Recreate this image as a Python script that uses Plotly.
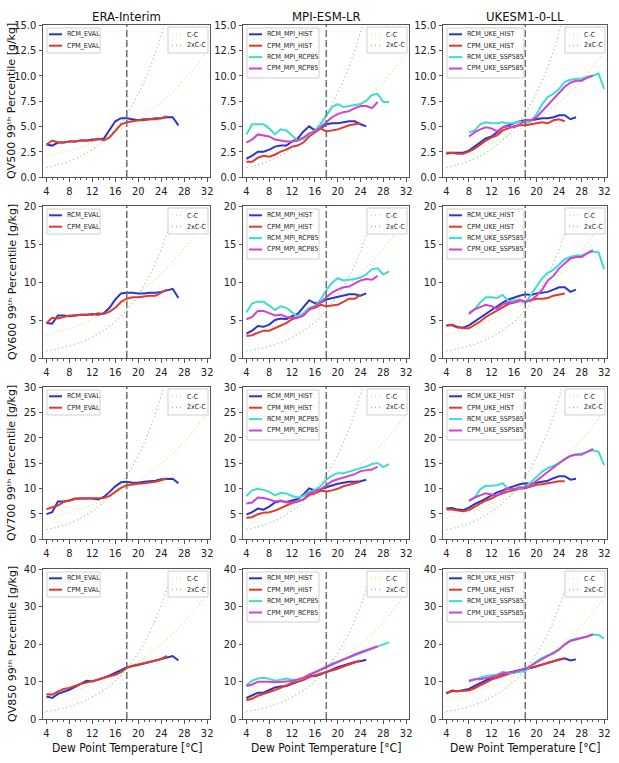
import plotly.graph_objects as go

W, H = 619, 763

# ---------------- data ----------------
col_titles = ["ERA-Interim", "MPI-ESM-LR", "UKESM1-0-LL"]
row_levels = ["QV500", "QV600", "QV700", "QV850"]
y_max = [15, 20, 30, 40]
y_dtick = [2.5, 5, 5, 10]
x_tick_vals = [4, 8, 12, 16, 20, 24, 28, 32]

# Clausius-Clapeyron reference curves: relative factor to value at 18 degC
cc_temps = [4, 6, 8, 10, 12, 14, 16, 18, 20, 22, 24, 26, 28, 30, 32]
cc_factor = [0.40, 0.46, 0.52, 0.59, 0.68, 0.77, 0.88, 1.00, 1.14, 1.30, 1.48, 1.68, 1.92, 2.18, 2.48]
cc2_factor = [0.15, 0.19, 0.25, 0.33, 0.44, 0.58, 0.76, 1.00, 1.32, 1.73, 2.27, 2.99, 3.93, 5.17, 6.80]
cc_anchor = [[5.0, 4.9, 5.0], [7.5, 7.5, 7.4], [10.0, 9.9, 10.2], [13.5, 13.5, 13.0]]
cc2_anchor = [[6.2, 6.3, 6.3], [6.3, 6.2, 6.3], [12.5, 12.6, 12.3], [13.4, 13.3, 13.2]]

# QV500
qv500_era_rcm = [3.2,3.1,3.4,3.4,3.5,3.5,3.6,3.6,3.7,3.7,3.8,4.6,5.5,5.8,5.8,5.7,5.6,5.7,5.7,5.8,5.8,5.9,5.9,5.1]
qv500_era_cpm = [3.2,3.6,3.4,3.4,3.5,3.5,3.6,3.6,3.6,3.8,3.6,3.9,4.6,5.2,5.4,5.5,5.6,5.6,5.7,5.7,5.8,6.0]
qv500_mpi_rcm_hist = [1.8,2.1,2.5,2.5,2.7,3.0,3.1,3.1,3.5,3.8,4.5,5.0,4.6,4.8,5.2,5.3,5.3,5.4,5.5,5.5,5.2,5.0]
qv500_mpi_cpm_hist = [1.5,1.5,1.9,2.1,2.0,2.2,2.5,2.7,3.0,3.1,3.4,4.0,4.4,4.8,4.5,4.6,4.7,4.9,5.1,5.2,5.3]
qv500_mpi_rcm_rcp85 = [4.2,5.2,5.2,5.2,4.8,4.2,4.7,4.6,4.1,3.6,3.8,4.2,4.6,5.2,6.1,6.9,7.2,6.9,7.0,7.1,7.2,7.5,8.1,8.2,7.4,7.4]
qv500_mpi_cpm_rcp85 = [3.4,3.7,4.2,4.1,4.0,3.7,3.6,3.5,3.5,3.6,3.9,4.3,4.5,4.9,5.4,5.9,6.2,6.4,6.5,6.8,7.0,7.0,6.8,7.4]
qv500_uke_rcm_hist = [2.3,2.4,2.4,2.4,2.6,3.0,3.4,3.8,4.0,4.4,4.9,5.1,5.3,5.5,5.6,5.6,5.7,5.8,5.8,5.9,6.1,6.1,5.7,5.9]
qv500_uke_cpm_hist = [2.4,2.4,2.3,2.3,2.5,2.8,3.2,3.6,3.9,4.1,4.6,4.8,5.0,5.1,5.1,5.2,5.3,5.4,5.3,5.6,5.7,5.5]
qv500_uke_rcm_ssp585 = [4.4,4.6,5.2,5.4,5.3,5.3,5.4,5.3,5.3,5.5,5.3,5.5,6.2,7.2,7.9,8.2,8.7,9.4,9.6,9.7,9.7,9.9,10.0,10.2,8.7]
qv500_uke_cpm_ssp585 = [4.0,4.4,4.7,4.9,4.8,4.5,4.9,5.0,4.9,5.2,5.6,5.6,5.9,6.5,7.1,7.6,8.3,8.9,9.3,9.5,9.5,9.8,10.0]
# QV600
qv600_era_rcm = [4.6,4.5,5.6,5.6,5.5,5.6,5.7,5.7,5.8,5.7,5.9,6.6,7.7,8.5,8.6,8.6,8.5,8.5,8.6,8.6,8.7,8.9,9.1,7.9]
qv600_era_cpm = [4.6,5.3,5.2,5.4,5.6,5.6,5.7,5.7,5.7,5.9,5.8,6.1,6.6,7.4,7.8,8.0,8.0,8.1,8.2,8.2,8.6,9.0]
qv600_mpi_rcm_hist = [3.2,3.6,4.2,4.1,4.4,5.0,5.2,5.1,5.5,5.8,6.7,7.6,7.2,7.3,7.7,7.9,8.1,8.2,8.4,8.4,8.2,8.5]
qv600_mpi_cpm_hist = [2.9,3.0,3.3,3.6,3.6,3.9,4.3,4.6,5.1,5.3,5.6,6.4,6.6,7.0,6.8,6.9,7.0,7.4,7.8,7.8,8.3]
qv600_mpi_rcm_rcp85 = [6.0,7.2,7.4,7.4,6.9,6.3,6.8,6.6,6.0,5.4,5.9,6.6,6.8,7.7,8.9,9.9,10.5,10.2,10.3,10.4,10.6,11.0,11.7,11.8,11.0,11.4]
qv600_mpi_cpm_rcp85 = [5.1,5.4,6.2,6.2,5.9,5.6,5.7,5.4,5.3,5.3,5.6,6.4,6.8,7.3,8.0,8.6,9.0,9.3,9.4,9.8,10.2,10.4,10.3,10.8]
qv600_uke_rcm_hist = [4.3,4.3,4.0,4.0,4.3,4.8,5.3,5.9,6.3,6.8,7.3,7.7,8.0,8.2,8.4,8.3,8.5,8.6,8.7,9.0,9.3,9.3,8.7,9.0]
qv600_uke_cpm_hist = [4.2,4.4,4.1,3.9,3.9,4.3,4.8,5.4,5.8,6.2,6.6,7.1,7.3,7.5,7.4,7.6,7.8,7.8,7.9,8.2,8.4,8.5]
qv600_uke_rcm_ssp585 = [6.0,6.4,7.3,8.0,8.0,7.9,8.3,7.5,7.6,7.6,7.2,8.3,9.3,10.5,11.2,11.6,12.3,13.0,13.3,13.5,13.5,13.7,14.0,13.9,11.7]
qv600_uke_cpm_ssp585 = [5.8,6.4,6.7,7.0,6.8,6.5,7.1,7.3,7.3,7.7,7.4,7.6,8.2,9.0,10.2,10.8,11.8,12.4,13.1,13.3,13.3,13.8,14.2]
# QV700
qv700_era_rcm = [4.9,5.3,7.4,7.4,7.6,8.0,8.0,8.0,8.0,7.8,8.3,9.3,10.4,11.2,11.3,11.1,11.1,11.3,11.4,11.5,11.8,11.9,11.9,11.0]
qv700_era_cpm = [5.9,6.2,6.6,7.3,7.6,7.9,8.0,8.0,8.0,8.1,8.1,8.5,9.3,10.1,10.6,10.8,10.9,11.0,11.1,11.3,11.6,12.0]
qv700_mpi_rcm_hist = [4.8,5.3,6.0,5.8,6.4,7.2,7.5,7.3,7.6,7.9,8.8,10.0,9.6,9.8,10.2,10.6,10.9,11.1,11.3,11.3,11.4,11.7]
qv700_mpi_cpm_hist = [4.2,4.3,4.9,5.2,5.3,5.6,6.1,6.6,7.1,7.4,7.8,8.7,9.0,9.5,9.4,9.6,9.9,10.4,10.7,10.9,11.3]
qv700_mpi_rcm_rcp85 = [8.5,9.6,9.9,9.7,9.3,8.6,9.1,9.0,8.5,8.2,8.5,9.3,9.7,10.4,11.7,12.5,13.0,13.0,13.3,13.6,13.9,14.3,14.8,15.0,14.2,14.8]
qv700_mpi_cpm_rcp85 = [7.0,7.2,8.2,8.1,7.8,7.4,7.6,7.2,7.2,7.4,7.8,9.0,9.4,9.8,10.6,11.4,11.8,12.1,12.4,12.8,13.4,13.6,13.7,14.3]
qv700_uke_rcm_hist = [6.0,6.1,5.8,5.7,6.2,6.9,7.4,8.0,8.6,9.2,9.6,10.1,10.4,10.8,11.0,10.9,11.1,11.3,11.5,12.0,12.4,12.4,11.7,11.9]
qv700_uke_cpm_hist = [5.8,5.8,5.6,5.5,5.7,6.3,6.9,7.6,8.0,8.6,9.0,9.4,9.6,9.9,10.0,10.4,10.7,10.8,11.0,11.2,11.4,11.4]
qv700_uke_rcm_ssp585 = [7.6,8.1,9.8,10.5,10.5,10.6,11.0,9.8,9.8,10.0,10.2,11.2,12.3,13.3,14.0,14.5,14.9,15.8,16.4,16.6,16.6,17.2,17.5,17.2,14.6]
qv700_uke_cpm_ssp585 = [7.5,8.2,8.6,9.0,8.8,8.6,9.3,10.0,9.8,10.2,10.1,10.6,11.5,12.4,13.3,14.1,15.0,15.7,16.4,16.7,16.8,17.2,17.8]
# QV850
qv850_era_rcm = [6.0,5.6,6.7,7.2,7.8,8.6,9.4,10.2,10.0,10.4,11.0,11.6,12.2,13.0,13.8,14.0,14.4,14.8,15.2,15.6,16.0,16.4,16.8,15.6]
qv850_era_cpm = [6.6,6.5,7.3,8.0,8.3,8.9,9.4,9.7,10.0,10.5,11.0,11.3,11.8,12.5,13.6,14.2,14.5,14.9,15.3,15.6,16.0,16.8]
qv850_mpi_rcm_hist = [5.6,6.2,7.0,7.0,7.8,8.4,8.7,8.8,9.4,9.9,10.5,11.6,11.4,11.9,12.6,13.2,13.8,14.3,14.8,15.2,15.4,15.8]
qv850_mpi_cpm_hist = [5.0,5.4,6.2,6.8,7.2,7.7,8.4,9.0,9.6,10.0,10.4,11.2,11.6,12.2,12.5,12.9,13.4,14.0,14.6,15.0,15.6]
qv850_mpi_rcm_rcp85 = [9.0,10.2,10.8,11.0,10.7,10.2,10.5,10.8,10.5,10.4,10.9,11.8,12.3,13.1,14.0,14.8,15.3,15.8,16.3,16.9,17.5,18.1,18.7,19.3,19.9,20.5]
qv850_mpi_cpm_rcp85 = [8.8,9.2,9.9,10.0,9.9,9.8,10.0,10.0,10.1,10.5,11.0,11.8,12.5,13.1,13.8,14.6,15.3,15.9,16.6,17.2,17.8,18.3,18.8,19.4]
qv850_uke_rcm_hist = [6.8,7.6,7.4,7.6,8.0,8.8,9.6,10.4,11.0,11.6,12.0,12.3,12.6,13.0,13.4,13.6,14.0,14.4,14.9,15.4,15.9,16.2,15.6,15.9]
qv850_uke_cpm_hist = [7.0,7.4,7.4,7.5,7.6,8.2,9.0,9.8,10.5,11.0,11.6,12.0,12.4,12.8,13.1,13.6,14.1,14.5,15.0,15.4,15.9,16.1]
qv850_uke_rcm_ssp585 = [10.0,10.6,11.0,11.5,11.6,11.8,12.6,12.2,12.3,12.6,12.8,14.2,15.4,16.3,17.0,17.4,18.4,20.0,21.0,21.4,21.6,22.0,22.5,22.4,21.4]
qv850_uke_cpm_ssp585 = [10.2,10.6,10.6,10.8,11.2,11.6,12.2,12.4,12.5,13.0,13.3,14.2,15.2,16.0,16.8,17.6,18.6,19.8,20.8,21.2,21.5,22.0,22.6]

BLUE, RED, CYAN, MAGENTA = "#2b36c8", "#e5392e", "#3fdcd0", "#cf42d4"
CC_YELLOW, CC_GREEN = "#e4e27a", "#7fd87f"

# series definitions per column: (name, colour, first temperature)
col_series = [
    [("RCM_EVAL", BLUE, 4), ("CPM_EVAL", RED, 4)],
    [("RCM_MPI_HIST", BLUE, 4), ("CPM_MPI_HIST", RED, 4),
     ("RCM_MPI_RCP85", CYAN, 4), ("CPM_MPI_RCP85", MAGENTA, 4)],
    [("RCM_UKE_HIST", BLUE, 4), ("CPM_UKE_HIST", RED, 4),
     ("RCM_UKE_SSP585", CYAN, 8), ("CPM_UKE_SSP585", MAGENTA, 8)],
]
values = [
    [[qv500_era_rcm, qv500_era_cpm],
     [qv500_mpi_rcm_hist, qv500_mpi_cpm_hist, qv500_mpi_rcm_rcp85, qv500_mpi_cpm_rcp85],
     [qv500_uke_rcm_hist, qv500_uke_cpm_hist, qv500_uke_rcm_ssp585, qv500_uke_cpm_ssp585]],
    [[qv600_era_rcm, qv600_era_cpm],
     [qv600_mpi_rcm_hist, qv600_mpi_cpm_hist, qv600_mpi_rcm_rcp85, qv600_mpi_cpm_rcp85],
     [qv600_uke_rcm_hist, qv600_uke_cpm_hist, qv600_uke_rcm_ssp585, qv600_uke_cpm_ssp585]],
    [[qv700_era_rcm, qv700_era_cpm],
     [qv700_mpi_rcm_hist, qv700_mpi_cpm_hist, qv700_mpi_rcm_rcp85, qv700_mpi_cpm_rcp85],
     [qv700_uke_rcm_hist, qv700_uke_cpm_hist, qv700_uke_rcm_ssp585, qv700_uke_cpm_ssp585]],
    [[qv850_era_rcm, qv850_era_cpm],
     [qv850_mpi_rcm_hist, qv850_mpi_cpm_hist, qv850_mpi_rcm_rcp85, qv850_mpi_cpm_rcp85],
     [qv850_uke_rcm_hist, qv850_uke_cpm_hist, qv850_uke_rcm_ssp585, qv850_uke_cpm_ssp585]],
]

# ---------------- layout geometry (pixels) ----------------
col_px = [(43, 210), (243, 409), (443, 607)]
row_px = [(25, 177), (206, 358), (387, 539), (569, 719)]
legend_w = [53, 72, 77]

NARROW = "Liberation Sans Narrow, DejaVu Sans Condensed, DejaVu Sans, sans-serif"
AX = "#555555"


def px_x(x):
    return x / W


def px_y(y):
    return 1 - y / H


fig = go.Figure()
shapes, annotations = [], []
layout_axes = {}

for r in range(4):
    for c in range(3):
        k = r * 3 + c + 1
        xa = "x" if k == 1 else f"x{k}"
        ya = "y" if k == 1 else f"y{k}"
        L, R = col_px[c]
        T, B = row_px[r]

        # C-C reference curves
        fig.add_trace(go.Scatter(
            x=cc_temps, y=[cc_anchor[r][c] * f for f in cc_factor],
            mode="lines", line=dict(color=CC_YELLOW, width=1.3, dash="1px,3px", shape="spline"),
            name="C-C", showlegend=False, xaxis=xa, yaxis=ya, hoverinfo="skip"))
        fig.add_trace(go.Scatter(
            x=cc_temps, y=[cc2_anchor[r][c] * f for f in cc2_factor],
            mode="lines", line=dict(color=CC_GREEN, width=1.3, dash="1px,3px", shape="spline"),
            name="2xC-C", showlegend=False, xaxis=xa, yaxis=ya, hoverinfo="skip"))

        # model series
        for (name, color, start), vals in zip(col_series[c], values[r][c]):
            fig.add_trace(go.Scatter(
                x=list(range(start, start + len(vals))), y=vals, mode="lines",
                line=dict(color=color, width=2), name=name, showlegend=False,
                xaxis=xa, yaxis=ya))

        # axes
        layout_axes["xaxis" if k == 1 else f"xaxis{k}"] = dict(
            domain=[px_x(L), px_x(R)], anchor=ya, range=[3.4, 32.5],
            tickmode="array", tickvals=x_tick_vals, ticks="outside", ticklen=3.5,
            tickcolor=AX, showline=True, linecolor=AX, linewidth=1, mirror=True,
            showgrid=False, zeroline=False,
            tickfont=dict(family=NARROW, size=11, color="#222222"),
            minor=dict(dtick=1, tick0=0, ticks="outside", ticklen=2, tickcolor=AX),
            automargin=False)
        layout_axes["yaxis" if k == 1 else f"yaxis{k}"] = dict(
            domain=[px_y(B), px_y(T)], anchor=xa, range=[0, y_max[r]],
            dtick=y_dtick[r], tick0=0, tickformat=".1f" if r == 0 else "d",
            ticks="outside", ticklen=3.5, tickcolor=AX, showline=True, linecolor=AX,
            linewidth=1, mirror=True, showgrid=False, zeroline=False,
            tickfont=dict(family=NARROW, size=11, color="#222222"),
            automargin=False)

        # vertical dashed line at 18 degC
        shapes.append(dict(type="line", xref=xa, yref=f"{ya} domain", x0=18, x1=18, y0=0, y1=1,
                           line=dict(color="#6f6f6f", width=1.5, dash="7px,3px"), layer="above"))

        # left legend (model series)
        n = len(col_series[c])
        bh = 25 if n == 2 else 50
        shapes.append(dict(type="rect", xref="paper", yref="paper",
                           x0=px_x(L + 4), x1=px_x(L + 4 + legend_w[c]),
                           y0=px_y(T + 3 + bh), y1=px_y(T + 3),
                           line=dict(color="#cfcfcf", width=1),
                           fillcolor="rgba(255,255,255,0.8)", layer="above"))
        for i, (name, color, start) in enumerate(col_series[c]):
            yc = T + 9.3 + 11.4 * i
            shapes.append(dict(type="line", xref="paper", yref="paper",
                               x0=px_x(L + 6), x1=px_x(L + 19), y0=px_y(yc), y1=px_y(yc),
                               line=dict(color=color, width=2), layer="above"))
            annotations.append(dict(text=name, xref="paper", yref="paper",
                                    x=px_x(L + 22), y=px_y(yc), xanchor="left", yanchor="middle",
                                    showarrow=False, font=dict(family=NARROW, size=7, color="#222222")))

        # right legend (C-C curves)
        shapes.append(dict(type="rect", xref="paper", yref="paper",
                           x0=px_x(R - 42), x1=px_x(R - 2), y0=px_y(T + 28), y1=px_y(T + 2),
                           line=dict(color="#cfcfcf", width=1),
                           fillcolor="rgba(255,255,255,0.8)", layer="above"))
        for i, (name, color) in enumerate([("C-C", CC_YELLOW), ("2xC-C", CC_GREEN)]):
            yc = T + 9.5 + 11 * i
            shapes.append(dict(type="line", xref="paper", yref="paper",
                               x0=px_x(R - 38), x1=px_x(R - 28), y0=px_y(yc), y1=px_y(yc),
                               line=dict(color=color, width=1.3, dash="1px,3px"), layer="above"))
            annotations.append(dict(text=name, xref="paper", yref="paper",
                                    x=px_x(R - 25), y=px_y(yc), xanchor="left", yanchor="middle",
                                    showarrow=False, font=dict(family=NARROW, size=7, color="#222222")))

# column titles and x-axis titles
for c in range(3):
    L, R = col_px[c]
    annotations.append(dict(text=col_titles[c], xref="paper", yref="paper",
                            x=px_x((L + R) / 2), y=px_y(17), xanchor="center", yanchor="middle",
                            showarrow=False, font=dict(family=NARROW, size=13, color="#111111")))
    annotations.append(dict(text="Dew Point Temperature [°C]", xref="paper", yref="paper",
                            x=px_x((L + R) / 2), y=px_y(748), xanchor="center", yanchor="middle",
                            showarrow=False, font=dict(family=NARROW, size=12, color="#111111")))

# row (y-axis) titles
for r in range(4):
    T, B = row_px[r]
    annotations.append(dict(text=f"{row_levels[r]} 99\u1d57\u02b0 Percentile [g/kg]",
                            xref="paper", yref="paper", x=px_x(12), y=px_y((T + B) / 2),
                            xanchor="center", yanchor="middle", textangle=-90, showarrow=False,
                            font=dict(family="DejaVu Sans, sans-serif", size=11, color="#111111")))

fig.update_layout(
    width=W, height=H, margin=dict(l=0, r=0, t=0, b=0),
    paper_bgcolor="white", plot_bgcolor="white",
    font=dict(family=NARROW, color="#222222"),
    shapes=shapes, annotations=annotations, showlegend=False,
    **layout_axes)

fig.write_html("out.html")
